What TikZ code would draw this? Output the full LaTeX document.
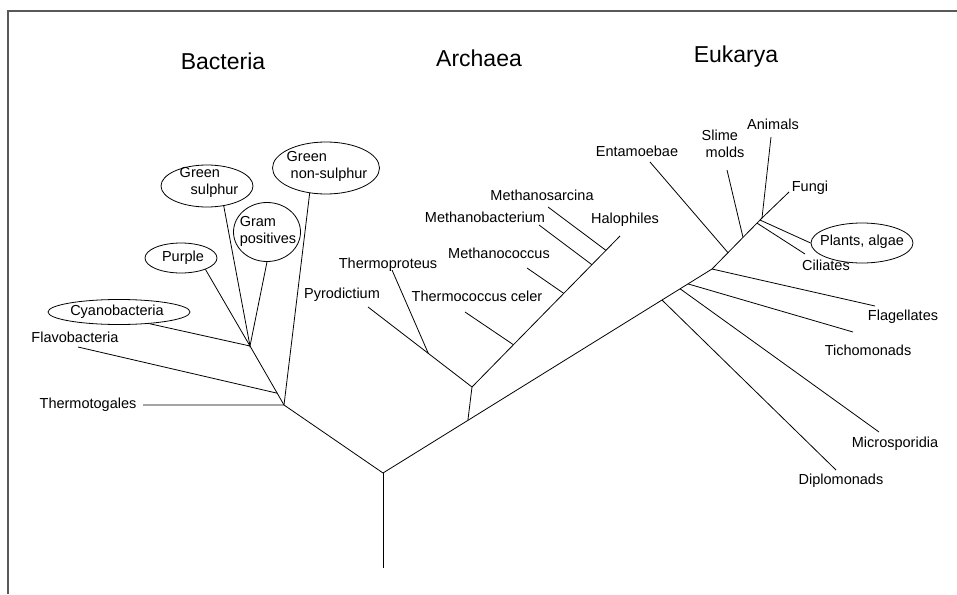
\documentclass[tikz,border=0pt]{standalone}
\usepackage{fontspec}
\setmainfont{Liberation Sans}
\usetikzlibrary{calc,shapes.geometric}

\begin{document}
\begin{tikzpicture}[x=1pt,y=-1pt,
    branch/.style={line width=0.8pt},
    lab/.style={font=\fontsize{14.5}{17}\selectfont,inner sep=0pt},
    oval/.style={draw,ellipse,line width=0.8pt,inner sep=0pt},
    realm/.style={font=\fontsize{23}{26}\selectfont,inner sep=0pt}]
    \useasboundingbox (0,0) rectangle (957,594);
    \draw[line width=1.4pt,black!65] (8,594) -- (8,11) -- (957,11);

    \node[realm] (bact) at (223,61) {Bacteria};
    \node[realm] (arch) at (479,58) {Archaea};
    \node[realm] (euk) at (736,57) {Eukarya};

    \coordinate (base) at (383,568);
    \coordinate (root) at (383,473);
    \draw[branch] (base) -- (root);

    \begin{scope}
        \coordinate (B1) at (284,405);
        \coordinate (B2) at (250,346);
        \coordinate (Bflavo) at ($(B1)!0.2!(B2)$);
        \coordinate (thermotogEnd) at (143,405);
        \coordinate (flavoEnd) at (78,347);
        \node[lab] (thermotog) at (88,405) {Thermotogales};
        \node[lab] (flavo) at (75,337) {Flavobacteria};
        \node[oval,minimum width=142,minimum height=25] (cyano) at (119,312) {};
        \node[lab] (cyanoTxt) at (117,312) {Cyanobacteria};
        \node[oval,minimum width=72,minimum height=30] (purple) at (181,258) {};
        \node[lab] (purpleTxt) at (183,258) {Purple};
        \node[oval,minimum width=92,minimum height=42] (gsulph) at (207,186) {};
        \node[lab,align=left] (gsulphTxt) at (209,182) {Green\\\hspace*{11pt}sulphur};
        \node[oval,minimum width=67,minimum height=59] (gram) at (267,232) {};
        \node[lab,align=left] (gramTxt) at (268,231) {Gram\\positives};
        \node[oval,minimum width=107,minimum height=52] (gnonsul) at (326,168) {};
        \node[lab,align=left] (gnonsulTxt) at (327,166) {Green\\\hspace*{4pt}non-sulphur};
        \draw[branch] (root) -- (B1) -- (B2);
        \draw[branch] (thermotogEnd) -- (B1) -- (gnonsul.-123);
        \draw[branch] (flavoEnd) -- (Bflavo);
        \draw[branch] (cyano.-21) -- (B2) -- (purple.-25);
        \draw[branch] (gsulph.-50) -- (B2) -- (gram.south);
    \end{scope}

    \coordinate (Eflag) at (712,269);
    \coordinate (Etop) at (762,218);

    \begin{scope}
        \coordinate (A0) at ($(root)!0.258!(Eflag)$);
        \coordinate (A1) at (472,387);
        \coordinate (pyroEnd) at (368,307);
        \coordinate (protEnd) at (392,270);
        \coordinate (haloEnd) at (620,236);
        \coordinate (Aprot) at ($(A1)!0.42!(pyroEnd)$);
        \coordinate (Atcel) at ($(A1)!0.28!(haloEnd)$);
        \coordinate (Amcoc) at ($(A1)!0.62!(haloEnd)$);
        \coordinate (Ambac) at ($(A1)!0.81!(haloEnd)$);
        \coordinate (Amsar) at ($(A1)!0.905!(haloEnd)$);
        \coordinate (tcelEnd) at (465,312);
        \coordinate (mcocEnd) at (527,268);
        \coordinate (mbacEnd) at (539,225);
        \coordinate (msarEnd) at (548,207);
        \node[lab] (pyro) at (342,295) {Pyrodictium};
        \node[lab] (prot) at (388,265) {Thermoproteus};
        \node[lab] (tcel) at (477,296) {Thermococcus celer};
        \node[lab] (mcoc) at (499,253) {Methanococcus};
        \node[lab] (mbac) at (485,217) {Methanobacterium};
        \node[lab] (msar) at (542,195) {Methanosarcina};
        \node[lab] (halo) at (625,220) {Halophiles};
        \draw[branch] (A0) -- (A1) -- (pyroEnd);
        \draw[branch] (Aprot) -- (protEnd);
        \draw[branch] (A1) -- (haloEnd);
        \draw[branch] (Atcel) -- (tcelEnd);
        \draw[branch] (Amcoc) -- (mcocEnd);
        \draw[branch] (Ambac) -- (mbacEnd);
        \draw[branch] (Amsar) -- (msarEnd);
    \end{scope}

    \begin{scope}
        \coordinate (Ediplo) at ($(root)!0.848!(Eflag)$);
        \coordinate (Emicro) at ($(root)!0.903!(Eflag)$);
        \coordinate (Etrich) at ($(root)!0.927!(Eflag)$);
        \coordinate (Eentam) at ($(Eflag)!0.32!(Etop)$);
        \coordinate (Eslime) at ($(Eflag)!0.62!(Etop)$);
        \coordinate (Ecil) at ($(Eflag)!0.9!(Etop)$);
        \coordinate (Eplant) at ($(Eflag)!0.96!(Etop)$);
        \coordinate (entamEnd) at (650,162);
        \coordinate (slimeEnd) at (727,170);
        \coordinate (animEnd) at (771,137);
        \coordinate (fungiEnd) at (789,192);
        \coordinate (cilEnd) at (805,254);
        \coordinate (flagEnd) at (875,306);
        \coordinate (trichEnd) at (853,332);
        \coordinate (microEnd) at (879,432);
        \coordinate (diploEnd) at (836,470);
        \node[lab] (entam) at (637,151) {Entamoebae};
        \node[lab,align=left] (slime) at (723,144) {Slime\\\hspace*{4pt}molds};
        \node[lab] (anim) at (773,124) {Animals};
        \node[lab] (fungi) at (810,188) {Fungi};
        \node[lab] (cil) at (826,265) {Ciliates};
        \node[oval,minimum width=102,minimum height=40] (plant) at (862,243) {};
        \node[lab] (plantTxt) at (862,242) {Plants, algae};
        \node[lab] (flag) at (903,317) {Flagellates};
        \node[lab] (trich) at (868,350) {Tichomonads};
        \node[lab] (micro) at (895,444) {Microsporidia};
        \node[lab] (diplo) at (841,481) {Diplomonads};
        \draw[branch] (root) -- (Eflag) -- (Etop);
        \draw[branch] (Eentam) -- (entamEnd);
        \draw[branch] (Eslime) -- (slimeEnd);
        \draw[branch] (Etop) -- (animEnd);
        \draw[branch] (Etop) -- (fungiEnd);
        \draw[branch] (Eplant) -- (plant.west);
        \draw[branch] (Ecil) -- (cilEnd);
        \draw[branch] (Eflag) -- (flagEnd);
        \draw[branch] (Etrich) -- (trichEnd);
        \draw[branch] (Emicro) -- (microEnd);
        \draw[branch] (Ediplo) -- (diploEnd);
    \end{scope}
\end{tikzpicture}
\end{document}
